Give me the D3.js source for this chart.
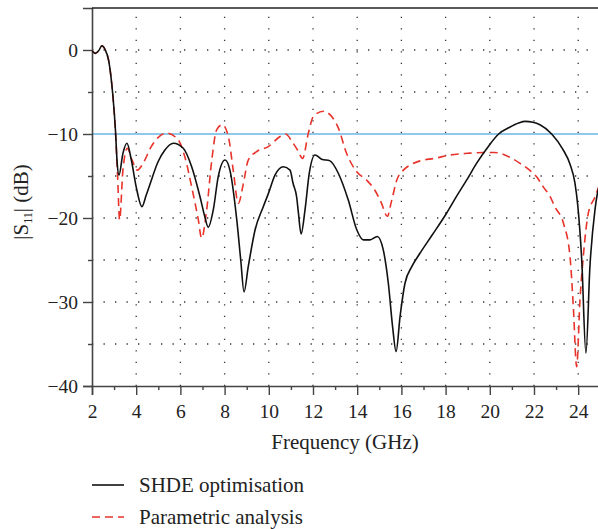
<!DOCTYPE html>
<html>
<head>
<meta charset="utf-8">
<script src="https://cdn.jsdelivr.net/npm/d3@7"></script>
<style>
  html, body { margin: 0; padding: 0; background: #fff; }
  svg { display: block; }
</style>
</head>
<body>
<svg id="chart" width="598" height="529"></svg>
<script>
// Frequency sweep (GHz) and |S11| (dB) for the SHDE-optimised design
const shdeFreq = [2.0, 2.15, 2.3, 2.45, 2.6, 2.75, 2.85, 2.95, 3.06, 3.14, 3.22, 3.4, 3.58, 3.78, 4.0, 4.26, 4.45, 4.62, 4.99, 5.3, 5.68, 6.13, 6.51, 6.89, 7.1, 7.26, 7.49, 7.71, 8.02, 8.24, 8.55, 8.73, 8.88, 9.07, 9.38, 9.75, 9.98, 10.28, 10.66, 10.96, 11.1, 11.26, 11.34, 11.46, 11.64, 11.83, 12.09, 12.39, 12.77, 13.15, 13.6, 13.98, 14.28, 14.58, 14.91, 15.18, 15.41, 15.6, 15.76, 15.94, 16.16, 16.47, 16.84, 17.4, 18.05, 18.5, 18.95, 19.4, 19.9, 20.4, 20.9, 21.3, 21.6, 21.95, 22.27, 22.8, 23.3, 23.63, 23.85, 23.98, 24.16, 24.35, 24.53, 24.76, 24.9, 25.0];
const shdeS11 = [-0.1, -0.4, -0.1, 0.5, 0.0, -1.2, -3.0, -5.6, -9.5, -13.5, -14.9, -12.3, -11.1, -13.1, -16.3, -18.65, -17.3, -16.0, -13.3, -11.9, -11.1, -11.7, -13.9, -17.5, -19.8, -21.1, -19.0, -15.1, -13.1, -14.3, -20.2, -25.0, -28.8, -25.8, -21.4, -18.65, -17.1, -14.9, -13.9, -14.3, -15.9, -17.5, -19.4, -21.9, -19.0, -14.7, -12.5, -13.0, -13.2, -14.7, -17.9, -21.4, -22.6, -22.6, -22.2, -23.8, -27.8, -32.9, -35.9, -31.7, -27.8, -25.8, -24.2, -22.0, -19.4, -17.4, -15.5, -13.5, -11.6, -10.0, -9.2, -8.7, -8.5, -8.6, -8.9, -10.0, -11.8, -13.6, -15.8, -18.5, -25.0, -36.1, -25.8, -19.0, -16.7, -15.9];

// Frequency sweep (GHz) and |S11| (dB) from the parametric analysis
const paramFreq = [2.0, 2.15, 2.3, 2.45, 2.6, 2.75, 2.85, 2.95, 3.06, 3.15, 3.25, 3.4, 3.6, 3.8, 4.05, 4.31, 4.68, 5.0, 5.38, 5.9, 6.2, 6.51, 6.81, 6.96, 7.19, 7.42, 7.64, 7.9, 8.17, 8.39, 8.62, 8.85, 9.07, 9.45, 9.98, 10.51, 10.75, 11.1, 11.3, 11.53, 11.79, 12.02, 12.47, 12.77, 13.15, 13.52, 13.98, 14.43, 14.8, 15.1, 15.36, 15.56, 15.79, 16.09, 16.39, 16.84, 17.5, 18.2, 19.0, 19.7, 20.2, 20.6, 21.0, 21.37, 21.8, 22.12, 22.42, 22.72, 22.95, 23.33, 23.63, 23.78, 23.93, 24.08, 24.23, 24.46, 24.76, 24.9, 25.0];
const paramS11 = [-0.1, -0.4, -0.1, 0.5, 0.0, -1.2, -3.0, -5.6, -9.6, -14.5, -20.2, -14.3, -11.7, -13.0, -14.3, -13.5, -11.5, -10.4, -9.9, -10.7, -12.7, -16.3, -20.2, -22.4, -19.0, -13.1, -9.5, -8.9, -10.3, -14.3, -18.25, -15.9, -13.1, -12.1, -11.5, -10.3, -10.0, -11.1, -11.9, -12.9, -9.9, -7.9, -7.3, -7.7, -9.3, -12.3, -14.5, -15.5, -16.7, -18.25, -19.8, -17.9, -15.5, -14.3, -13.7, -13.2, -12.9, -12.5, -12.3, -12.2, -12.2, -12.4, -12.9, -13.5, -14.3, -15.1, -16.3, -17.4, -18.7, -20.6, -24.6, -30.6, -37.7, -29.8, -24.6, -19.4, -17.5, -16.5, -15.8];

// Axis ticks and the -10 dB matching threshold
const xTicks = [2, 4, 6, 8, 10, 12, 14, 16, 18, 20, 22, 24];
const xMinorTicks = [3, 5, 7, 9, 11, 13, 15, 17, 19, 21, 23, 25];
const yTicks = [0, -10, -20, -30, -40];
const yMinorTicks = [-5, -15, -25, -35];
const threshold = [-10];

const legendLabels = ["SHDE optimisation", "Parametric analysis"];

const serif = "'Liberation Serif', 'Times New Roman', serif";

const svg = d3.select("#chart");
const plotLeft = 92, plotRight = 600.3, plotTop = 8, plotBottom = 386;

const x = d3.scaleLinear().domain([2, 25]).range([plotLeft, plotRight]);
const y = d3.scaleLinear().domain([-40, 5]).range([plotBottom, plotTop]);

svg.append("defs").append("clipPath").attr("id", "plotClip")
  .append("rect").attr("x", plotLeft).attr("y", plotTop)
  .attr("width", plotRight - plotLeft).attr("height", plotBottom - plotTop);

// dotted grid
const grid = svg.append("g").attr("stroke", "#333").attr("stroke-width", 1.3)
  .attr("stroke-dasharray", "1.3,10.2").attr("fill", "none");
grid.selectAll("line.gx").data(xTicks.slice(1)).join("line")
  .attr("x1", d => x(d)).attr("x2", d => x(d)).attr("y1", plotBottom).attr("y2", plotTop);
grid.selectAll("line.gy").data([0, -5, -15, -20, -25, -30, -35]).join("line")
  .attr("y1", d => y(d)).attr("y2", d => y(d)).attr("x1", plotLeft).attr("x2", plotRight);

// -10 dB reference line
svg.selectAll("line.thr").data(threshold).join("line")
  .attr("x1", plotLeft).attr("x2", plotRight).attr("y1", d => y(d)).attr("y2", d => y(d))
  .attr("stroke", "#6BB6E6").attr("stroke-width", 1.6);

// axes
const xAxis = svg.append("g").attr("transform", `translate(0,${plotBottom})`)
  .call(d3.axisBottom(x).tickValues(xTicks).tickSize(9).tickPadding(9).tickFormat(d3.format("d")));
const xMinor = svg.append("g").attr("transform", `translate(0,${plotBottom})`)
  .call(d3.axisBottom(x).tickValues(xMinorTicks).tickSize(4).tickFormat(""));
const yAxis = svg.append("g").attr("transform", `translate(${plotLeft},0)`)
  .call(d3.axisLeft(y).tickValues(yTicks).tickSize(9).tickPadding(5)
    .tickFormat(d => d < 0 ? "\u2212" + Math.abs(d) : String(d)));
const yMinor = svg.append("g").attr("transform", `translate(${plotLeft},0)`)
  .call(d3.axisLeft(y).tickValues(yMinorTicks).tickSize(4).tickFormat(""));

[xAxis, xMinor, yAxis, yMinor].forEach(g => {
  g.attr("font-family", serif);
  g.select(".domain").attr("stroke", "#444").attr("stroke-width", 1.6);
  g.selectAll(".tick line").attr("stroke", "#444").attr("stroke-width", 1.4);
  g.selectAll("text").style("font-family", serif)
    .style("font-size", "19.5px").attr("fill", "#222");
});
xMinor.select(".domain").remove();
yMinor.select(".domain").remove();

// top frame line
svg.append("line").attr("x1", plotLeft).attr("x2", plotRight).attr("y1", plotTop).attr("y2", plotTop)
  .attr("stroke", "#222").attr("stroke-width", 1.6);

// curves
const line = d3.line().x(d => x(d[0])).y(d => y(d[1])).curve(d3.curveMonotoneX);
const plot = svg.append("g").attr("clip-path", "url(#plotClip)");

plot.append("path").datum(d3.zip(paramFreq, paramS11))
  .attr("d", line).attr("fill", "none").attr("stroke", "#E8332A")
  .attr("stroke-width", 1.6).attr("stroke-dasharray", "8,5");

plot.append("path").datum(d3.zip(shdeFreq, shdeS11))
  .attr("d", line).attr("fill", "none").attr("stroke", "#111")
  .attr("stroke-width", 1.6);

// axis titles
svg.append("text").attr("x", (plotLeft + 598) / 2).attr("y", 449)
  .attr("text-anchor", "middle").attr("fill", "#222")
  .style("font-family", serif).style("font-size", "21px").text("Frequency (GHz)");

const yTitle = svg.append("text").attr("transform", "translate(28,202) rotate(-90)")
  .attr("text-anchor", "middle").attr("fill", "#222")
  .style("font-family", serif).style("font-size", "21px");
yTitle.append("tspan").text("|S");
yTitle.append("tspan").style("font-size", "12px").attr("dy", 4).text("11");
yTitle.append("tspan").attr("dy", -4).text("| (dB)");

// legend
const legend = svg.append("g");
const legendStyles = [
  { stroke: "#111", dash: null },
  { stroke: "#E8332A", dash: "8,5" }
];
legendLabels.forEach((label, i) => {
  const cy = 485 + i * 32;
  legend.append("line").attr("x1", 92).attr("x2", 124).attr("y1", cy).attr("y2", cy)
    .attr("stroke", legendStyles[i].stroke).attr("stroke-width", 1.6)
    .attr("stroke-dasharray", legendStyles[i].dash);
  legend.append("text").attr("x", 139).attr("y", cy + 7).attr("fill", "#222")
    .style("font-family", serif).style("font-size", "21px").text(label);
});
</script>
</body>
</html>
